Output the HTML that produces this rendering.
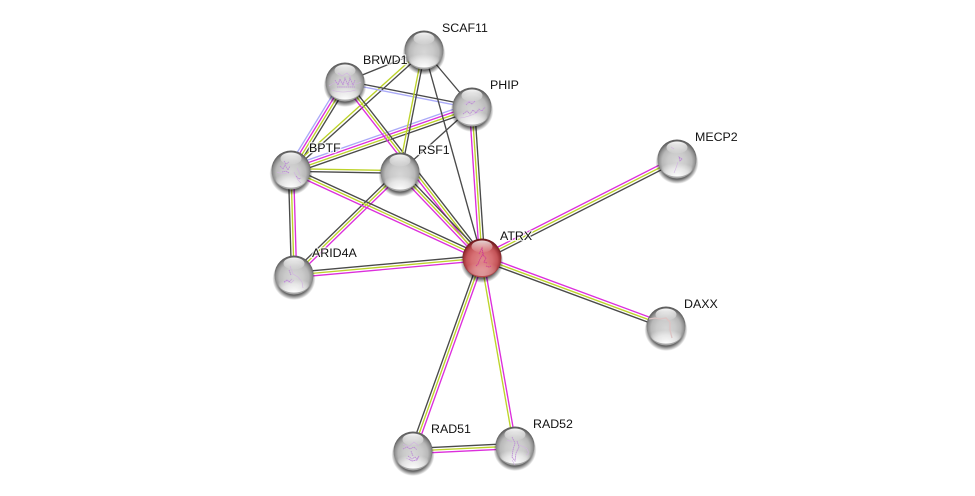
<!DOCTYPE html>
<html><head><meta charset="utf-8"><style>
html,body{margin:0;padding:0;background:#fff;width:975px;height:496px;overflow:hidden}
svg{display:block}
path,line{fill:none;stroke-width:1.35}
.m{stroke:#dc2edc}.y{stroke:#bdd32a}.k{stroke:#4a4a4a}.b{stroke:#aaaaf8}
text{font:12.4px "Liberation Sans",sans-serif;fill:#111;paint-order:stroke;stroke:#fff;stroke-opacity:.75;stroke-width:2.5px;stroke-linejoin:round}
.s{fill:none;stroke:#d2b2e2;stroke-width:.6}
.d{stroke:#bb88d6;stroke-width:.8;stroke-dasharray:1.6 .5}
.r{fill:none;stroke:#d0408f;stroke-width:.9;stroke-dasharray:1.6 .5}
</style></head><body>
<svg width="975" height="496" viewBox="0 0 975 496" xmlns="http://www.w3.org/2000/svg">
<defs>
<radialGradient id="g" cx="50%" cy="56%" r="53%">
<stop offset="0" stop-color="#d6d6d6"/><stop offset=".45" stop-color="#cacaca"/><stop offset=".72" stop-color="#b8b8b8"/><stop offset=".88" stop-color="#909090"/><stop offset="1" stop-color="#5f5f5f"/>
</radialGradient>
<radialGradient id="gr" cx="50%" cy="56%" r="53%">
<stop offset="0" stop-color="#df888c"/><stop offset=".5" stop-color="#d66e72"/><stop offset=".75" stop-color="#c45458"/><stop offset=".9" stop-color="#9c3236"/><stop offset="1" stop-color="#6e1a1e"/>
</radialGradient>
<radialGradient id="low" cx="50%" cy="100%" r="75%">
<stop offset="0" stop-color="#fff" stop-opacity="1"/><stop offset=".6" stop-color="#fff" stop-opacity=".55"/><stop offset="1" stop-color="#fff" stop-opacity="0"/>
</radialGradient>
<linearGradient id="hi" x1="0" y1="0" x2="0" y2="1">
<stop offset="0" stop-color="#fff" stop-opacity=".95"/><stop offset="1" stop-color="#fff" stop-opacity=".05"/>
</linearGradient>
<radialGradient id="sh" cx="50%" cy="50%" r="50%">
<stop offset=".78" stop-color="#000" stop-opacity=".6"/><stop offset="1" stop-color="#000" stop-opacity="0"/>
</radialGradient>
<g id="n">
<ellipse cx="0" cy="3.5" rx="21.5" ry="21.5" fill="url(#sh)"/>
<circle r="19.5" fill="url(#g)"/>
<ellipse cx="0" cy="8.5" rx="15.5" ry="9" fill="url(#low)"/>
<ellipse cx="0" cy="-11.5" rx="10.5" ry="6" fill="url(#hi)"/>
</g>
<g id="nr">
<ellipse cx="0" cy="3.5" rx="21.5" ry="21.5" fill="url(#sh)"/>
<circle r="19.5" fill="url(#gr)"/>
<ellipse cx="0" cy="9" rx="15" ry="9" fill="url(#low)" opacity=".4"/>
<ellipse cx="0" cy="-11.5" rx="10.5" ry="6" fill="url(#hi)" opacity=".85"/>
</g>
</defs>

<!-- edges -->
<g transform="matrix(.892 -.453 .453 .892 482 258)"><path class="m" d="M0-2.6H218"/><path class="y" d="M0 0H218"/><path class="k" d="M0 2.6H218"/></g>
<g transform="matrix(.938 .347 -.347 .938 482 258)"><path class="m" d="M0-2.6H196"/><path class="y" d="M0 0H196"/><path class="k" d="M0 2.6H196"/></g>
<g transform="matrix(-.337 .941 -.941 -.337 482 258)"><path class="m" d="M0-2.6H205"/><path class="y" d="M0 0H205"/><path class="k" d="M0 2.6H205"/></g>
<g transform="matrix(.173 .985 -.985 .173 482 258)"><path class="m" d="M0-1.3H191"/><path class="y" d="M0 1.3H191"/></g>
<g transform="matrix(.999 -.049 .049 .999 413 451)"><path class="k" d="M0-2.6H102"/><path class="y" d="M0 0H102"/><path class="m" d="M0 2.6H102"/></g>
<g transform="matrix(.996 -.09 .09 .996 294 275)"><path class="k" d="M0-2.6H189"/><path class="y" d="M0 0H189"/><path class="m" d="M0 2.6H189"/></g>
<g transform="matrix(.717 -.697 .697 .717 294 275)"><path class="k" d="M0-2.6H148"/><path class="y" d="M0 0H148"/><path class="m" d="M0 2.6H148"/></g>
<g transform="matrix(.029 .999 -.999 .029 291 170)"><path class="m" d="M0-2.6H105"/><path class="y" d="M0 0H105"/><path class="k" d="M0 2.6H105"/></g>
<g transform="matrix(.908 .418 -.418 .908 291 170)"><path class="k" d="M0-2.6H210"/><path class="y" d="M0 0H210"/><path class="m" d="M0 2.6H210"/></g>
<g transform="matrix(1 .018 -.018 1 291 170)"><path class="y" d="M0-1.3H109"/><path class="k" d="M0 1.3H109"/></g>
<g transform="matrix(.523 -.852 .852 .523 291 170)"><path class="b" d="M0-3.9H103"/><path class="m" d="M0-1.3H103"/><path class="y" d="M0 1.3H103"/><path class="k" d="M0 3.9H103"/></g>
<g transform="matrix(.945 -.329 .329 .945 291 170)"><path class="b" d="M0-3.9H192"/><path class="m" d="M0-1.3H192"/><path class="y" d="M0 1.3H192"/><path class="k" d="M0 3.9H192"/></g>
<g transform="matrix(.742 -.67 .67 .742 291 170)"><path class="y" d="M0-1.5H179"/><path class="k" d="M0 1.5H179"/></g>
<line class="k" x1="345" y1="82" x2="424" y2="50"/>
<g transform="matrix(.981 .193 -.193 .981 345 82)"><path class="k" d="M0-1.3H129"/><path class="b" d="M0 1.3H129"/></g>
<g transform="matrix(.614 .789 -.789 .614 345 82)"><path class="k" d="M0-2.6H223"/><path class="y" d="M0 0H223"/><path class="m" d="M0 2.6H223"/></g>
<g transform="matrix(.69 .724 -.724 .69 400 172)"><path class="k" d="M0-2.6H119"/><path class="y" d="M0 0H119"/><path class="m" d="M0 2.6H119"/></g>
<g transform="matrix(-.193 .981 -.981 -.193 424 50)"><path class="k" d="M0-1.3H124"/><path class="y" d="M0 1.3H124"/></g>
<line class="k" x1="424" y1="50" x2="482" y2="258"/>
<line class="k" x1="424" y1="50" x2="472" y2="107"/>
<line class="k" x1="472" y1="107" x2="400" y2="172"/>
<g transform="matrix(.066 .998 -.998 .066 472 107)"><path class="k" d="M0-2.6H151"/><path class="y" d="M0 0H151"/><path class="m" d="M0 2.6H151"/></g>

<!-- nodes -->
<use href="#n" x="424" y="50"/>
<use href="#n" x="345" y="82"/>
<path class="s" d="M329 86q8-6 16-3t16-1M332 90q10 4 24 0M338 73l4 3 5-3 4 4"/>
<path class="d" d="M335 80l3 5 2-6 3 6 2-7 3 7 2-7 3 7 2-5M337 87h18"/>
<use href="#n" x="472" y="107"/>
<path class="s" d="M460 118q10-1 22-8M464 104l5-3 6 1"/>
<path class="d" d="M463 114l4-3 3 3 3-4 3 3 3-4 3 2 3-4M466 105l3-3 3 2 3-3"/>
<use href="#n" x="291" y="170"/>
<path class="s" d="M277 172q6 3 12 0M294 172l4 8 3 3M297 168l3 6"/>
<path class="d" d="M280 166l3 3 2-4 3 5 2-4M282 172l4-1 3 2M284 161l2 3 3-2M296 176l3 3 2-1"/>
<use href="#n" x="400" y="172"/>
<use href="#n" x="294" y="275"/>
<path class="s" d="M290 266l3 8 5 3 4 5 1 6M284 283l4-3 3 3 3-3"/>
<path class="d" d="M284 282l3-2 2 2 3-3M289 270l2 5"/>
<use href="#n" x="677" y="159"/>
<path class="s" d="M678 162l-2 6-2 5M671 147l3 2"/>
<path class="d" d="M679 157l3 2-2 2z"/>
<use href="#n" x="666" y="326"/>
<path d="M649 319l6-1 5 1 6-1 4 4 0 8 2 8" fill="none" stroke="#dcc4c4" stroke-width=".7"/>
<use href="#n" x="413" y="451"/>
<path class="s" d="M403 444l5 3 6-5 5 4M406 458l6 3 6-2"/>
<path class="d" d="M403 449l4-2 3 2 4-2 3 3M408 456l4 3 3-2 2 2 2-3-2 4-5 1-3-2M411 451l2 5"/>
<use href="#n" x="515" y="446"/>
<path class="s" d="M519 445l5 2 3 2q3 5-1 6M507 440l5 2M512 460l3 5"/>
<path class="d" d="M512 437l3 6-2 7-1 7 3 4 1-8 3-6-2-6"/>
<use href="#nr" x="482" y="258"/>
<path class="r" d="M479 254l3-6 1 6-3 5-2 5M483 255l3 3-2 4 3 1M476 266l3-3M486 266l3 1 2-1M482 252l2 2"/>

<!-- labels -->
<text x="442" y="32">SCAF11</text>
<text x="363" y="64">BRWD1</text>
<text x="490" y="89">PHIP</text>
<text x="309" y="152">BPTF</text>
<text x="418" y="154">RSF1</text>
<text x="312" y="257">ARID4A</text>
<text x="500" y="240">ATRX</text>
<text x="695" y="141">MECP2</text>
<text x="684" y="308">DAXX</text>
<text x="431" y="433">RAD51</text>
<text x="533" y="428">RAD52</text>
</svg>
</body></html>
